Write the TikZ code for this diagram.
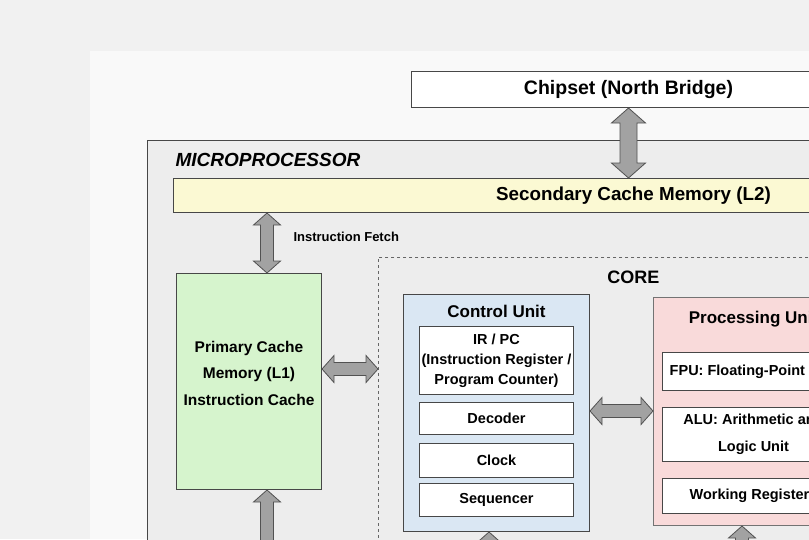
\documentclass[tikz,border=0pt]{standalone}
\usepackage{fontspec}
\setmainfont{Liberation Sans}
\usetikzlibrary{calc}
\usetikzlibrary{positioning}
\definecolor{pageout}{HTML}{F1F1F1}
\definecolor{pagein}{HTML}{F9F9F9}
\definecolor{cpufill}{HTML}{EDEDED}
\definecolor{ltwo}{HTML}{FBF9D3}
\definecolor{lone}{HTML}{D6F4CD}
\definecolor{cufill}{HTML}{DAE7F3}
\definecolor{pufill}{HTML}{F9DADA}
\definecolor{arrfill}{HTML}{A2A2A2}
\tikzset{x=1pt, y=-1pt,
every node/.style={font=\bfseries},
block/.style={ % Sets the properties for each box
draw=black!72,
line width=1pt,
inner sep=0pt,
anchor=north west},
unitbox/.style={block,
fill=white,
align=center,
font=\bfseries\fontsize{14.5}{20}\selectfont},
title/.style={font=\bfseries\fontsize{17}{20}\selectfont},
arrow dims/.code args={#1/#2/#3}{\def\arrhl{#1}\def\arrhw{#2}\def\arrsw{#3}},
fat arrow/.style={ % Grey block arrow with two heads
arrow dims=12pt/13.5pt/6.5pt,
draw=black!68,
fill=arrfill,
line width=0.8pt,
to path={let \p1=(\tikztostart), \p2=(\tikztotarget),
\n1={atan2(\y2-\y1,\x2-\x1)}, \n2={veclen(\x2-\x1,\y2-\y1)} in
[shift={(\p1)}, rotate=\n1]
(0pt,0pt) -- (\arrhl,\arrhw) -- (\arrhl,\arrsw) -- ({\n2-\arrhl},\arrsw)
-- ({\n2-\arrhl},\arrhw) -- ({\n2},0pt) -- ({\n2-\arrhl},-\arrhw)
-- ({\n2-\arrhl},-\arrsw) -- (\arrhl,-\arrsw) -- (\arrhl,-\arrhw) -- cycle}}}
\begin{document}
\begin{tikzpicture}
\useasboundingbox (0,0) rectangle (809,539);
\fill[pageout] (0,0) rectangle (809,539);
\fill[pagein] (90,51) rectangle (809,539);

\node[block, fill=white, minimum width=434, minimum height=36,
  font=\bfseries\fontsize{19.5}{23}\selectfont] (chip) at (411,71) {Chipset (North Bridge)};
\node[block, fill=cpufill, minimum width=800, minimum height=500] (cpu) at (147,140) {};
\node[anchor=west, font=\bfseries\itshape\fontsize{19}{22}\selectfont]
  at ([xshift=25pt,yshift=-20pt]cpu.north west) {MICROPROCESSOR};
\node[block, fill=ltwo, minimum width=920, minimum height=34,
  font=\bfseries\fontsize{18.8}{22}\selectfont] (l2) at (173,178) {Secondary Cache Memory (L2)};
\node[anchor=west, font=\bfseries\fontsize{13}{15}\selectfont] (fetch) at (290,237) {Instruction Fetch};

% core and its units
\node[block, fill=cpufill, dashed, draw=black!60, line width=0.7pt,
  minimum width=510, minimum height=400] (core) at (378,257) {};
\node[font=\bfseries\fontsize{18}{21}\selectfont] at ([yshift=-20pt]core.north) {CORE};

\node[block, fill=lone, minimum width=145, minimum height=216] (l1) at (176,273) {};
\node[align=center, font=\bfseries\fontsize{15.5}{26.5}\selectfont] at ([yshift=8.5pt]l1.center)
  {Primary Cache\\Memory (L1)\\Instruction Cache};

\node[block, fill=cufill, minimum width=186, minimum height=237] (cu) at (403,294) {};
\node[title] at ([yshift=-17pt]cu.north) {Control Unit};
\node[unitbox, minimum width=154, minimum height=68] (irpc) at (419,326)
  {IR / PC\\(Instruction Register /\\Program Counter)};
\node[unitbox, minimum width=154, minimum height=32] (dec) at (419,402) {Decoder};
\node[unitbox, minimum width=154, minimum height=34] (clk) at (419,443) {Clock};
\node[unitbox, minimum width=154, minimum height=33] (seq) at (419,483) {Sequencer};

\node[block, fill=pufill, draw=black!55, minimum width=200, minimum height=228] (pu) at (653,297) {};
\node[title] at ([yshift=-22pt]pu.north) {Processing Unit};
\node[unitbox, minimum width=182, minimum height=38] (fpu) at (662,352) {FPU: Floating-Point Unit};
\node[unitbox, minimum width=182, minimum height=54] (alu) at (662,407)
  {ALU: Arithmetic and\\[7pt]Logic Unit};
\node[unitbox, minimum width=182, minimum height=35] (wreg) at (662,478) {Working Registers};

% buses
\coordinate (l1bus) at (267,600);
\coordinate (cubus) at (489,600);
\coordinate (pubus) at (742,600);
\draw[fat arrow, arrow dims=15pt/17pt/8.5pt] (chip.south) to (chip.south |- l2.north);
\draw[fat arrow] (l2.south -| l1bus) to (l1.north -| l1bus);
\draw[fat arrow] (l1.east |- 0,369) to (core.west |- 0,369);
\draw[fat arrow] (cu.east |- 0,411) to (pu.west |- 0,411);
\draw[fat arrow] (l1bus) to (l1.south -| l1bus);
\draw[fat arrow] (cubus) to (cu.south -| cubus);
\draw[fat arrow] (pubus) to (pu.south -| pubus);
\end{tikzpicture}
\end{document}
